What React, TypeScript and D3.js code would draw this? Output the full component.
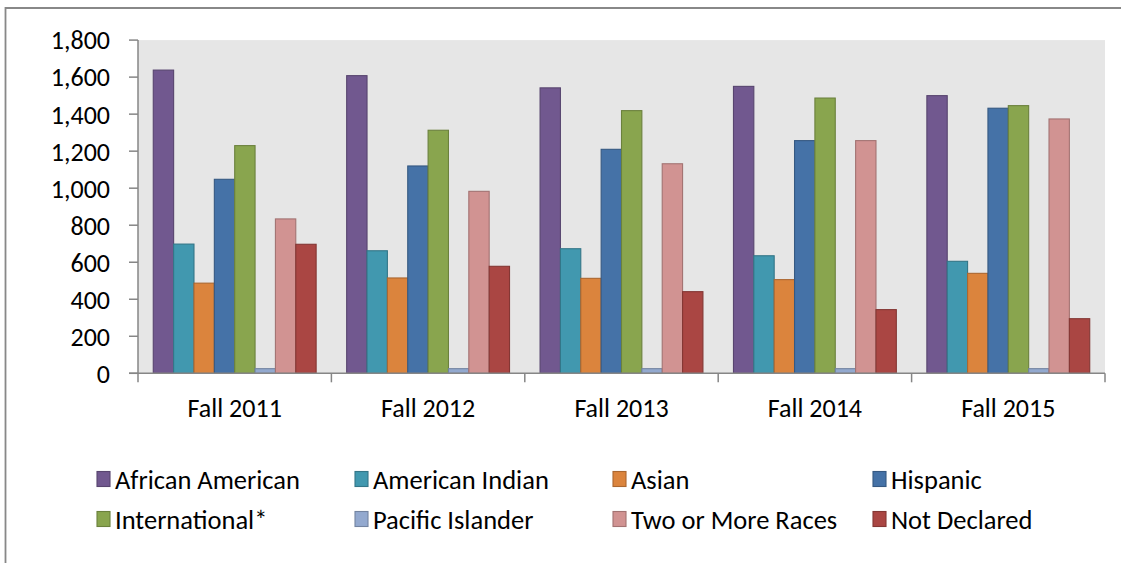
import React from "react";
import * as d3 from "d3";

const categories = ["Fall 2011", "Fall 2012", "Fall 2013", "Fall 2014", "Fall 2015"];
const seriesNames = [
  "African American",
  "American Indian",
  "Asian",
  "Hispanic",
  "International*",
  "Pacific Islander",
  "Two or More Races",
  "Not Declared",
];
const africanAmerican = [1638, 1608, 1542, 1550, 1500];
const americanIndian = [698, 662, 673, 635, 605];
const asian = [487, 515, 513, 506, 540];
const hispanic = [1048, 1120, 1210, 1257, 1432];
const international = [1230, 1313, 1419, 1487, 1446];
const pacificIslander = [25, 25, 25, 25, 25];
const twoOrMore = [834, 983, 1132, 1257, 1374];
const notDeclared = [697, 578, 441, 344, 295];
const seriesColors = ["#71588F", "#4198AF", "#DB843D", "#4572A7", "#89A54E", "#93A9CF", "#D19392", "#AA4643"];
const yTicks = [0, 200, 400, 600, 800, 1000, 1200, 1400, 1600, 1800];

const seriesValues = [
  africanAmerican,
  americanIndian,
  asian,
  hispanic,
  international,
  pacificIslander,
  twoOrMore,
  notDeclared,
];

const W = 1121;
const H = 563;
const plot = { left: 138, right: 1105, top: 40.1, bottom: 373.3 };
const FONT = "Carlito, Calibri, 'Liberation Sans', Arial, sans-serif";
const axisColor = "#868686";

export default function App() {
  const x0 = d3.scaleBand<string>().domain(categories).range([plot.left, plot.right]).padding(0);
  const x1 = d3
    .scaleBand<string>()
    .domain(seriesNames)
    .range([0, x0.bandwidth()])
    .paddingInner(0)
    .paddingOuter(0.75);
  const y = d3.scaleLinear().domain([0, 1800]).range([plot.bottom, plot.top]);

  const catBoundaries = categories.map((c) => x0(c)!).concat([plot.right]);

  const legendCols = [97, 355, 613, 873];
  const legendRows = [479, 519];

  return (
    <svg
      width={W}
      height={H}
      style={{ position: "absolute", left: 0, top: 0, background: "#fff" }}
      fontFamily={FONT}
    >
      {/* outer chart border */}
      <path d={`M5.5,${H + 5} L5.5,8 L${W + 5},8`} fill="none" stroke="#888" strokeWidth={1.8} />

      {/* plot background */}
      <rect
        x={plot.left}
        y={plot.top}
        width={plot.right - plot.left}
        height={plot.bottom - plot.top}
        fill="#E6E6E6"
      />

      {/* bars */}
      {seriesNames.map((s, si) => (
        <g key={s}>
          {categories.map((c, ci) => {
            const v = seriesValues[si][ci];
            const bx = x0(c)! + x1(s)!;
            const by = y(v);
            return (
              <rect
                key={c}
                x={bx}
                y={by}
                width={x1.bandwidth()}
                height={plot.bottom - by}
                fill={seriesColors[si]}
                stroke={d3.color(seriesColors[si])!.darker(0.7).toString()}
                strokeWidth={1.1}
              />
            );
          })}
        </g>
      ))}

      {/* y axis */}
      <line x1={plot.left} x2={plot.left} y1={plot.top} y2={plot.bottom} stroke={axisColor} strokeWidth={1.5} />
      {yTicks.map((t) => (
        <g key={t}>
          <line x1={plot.left - 9} x2={plot.left} y1={y(t)} y2={y(t)} stroke={axisColor} strokeWidth={1.5} />
          <text x={110} y={y(t)} dy="0.36em" textAnchor="end" fontSize={26} fill="#000">
            {d3.format(",")(t)}
          </text>
        </g>
      ))}

      {/* x axis */}
      <line x1={plot.left - 9} x2={plot.right} y1={plot.bottom} y2={plot.bottom} stroke={axisColor} strokeWidth={1.5} />
      {catBoundaries.map((bx, i) => (
        <line key={i} x1={bx} x2={bx} y1={plot.bottom} y2={plot.bottom + 9} stroke={axisColor} strokeWidth={1.5} />
      ))}
      {categories.map((c) => (
        <text key={c} x={x0(c)! + x0.bandwidth() / 2} y={417} textAnchor="middle" fontSize={26} fill="#000">
          {c}
        </text>
      ))}

      {/* legend */}
      {seriesNames.map((s, si) => {
        const col = si % 4;
        const row = Math.floor(si / 4);
        const lx = legendCols[col];
        const ly = legendRows[row];
        return (
          <g key={s}>
            <rect
              x={lx}
              y={ly - 7.5}
              width={13}
              height={15}
              fill={seriesColors[si]}
              stroke={d3.color(seriesColors[si])!.darker(0.7).toString()}
              strokeWidth={1.1}
            />
            <text x={lx + 18} y={ly} dy="0.36em" fontSize={26.5} fill="#000">
              {s}
            </text>
          </g>
        );
      })}
    </svg>
  );
}
